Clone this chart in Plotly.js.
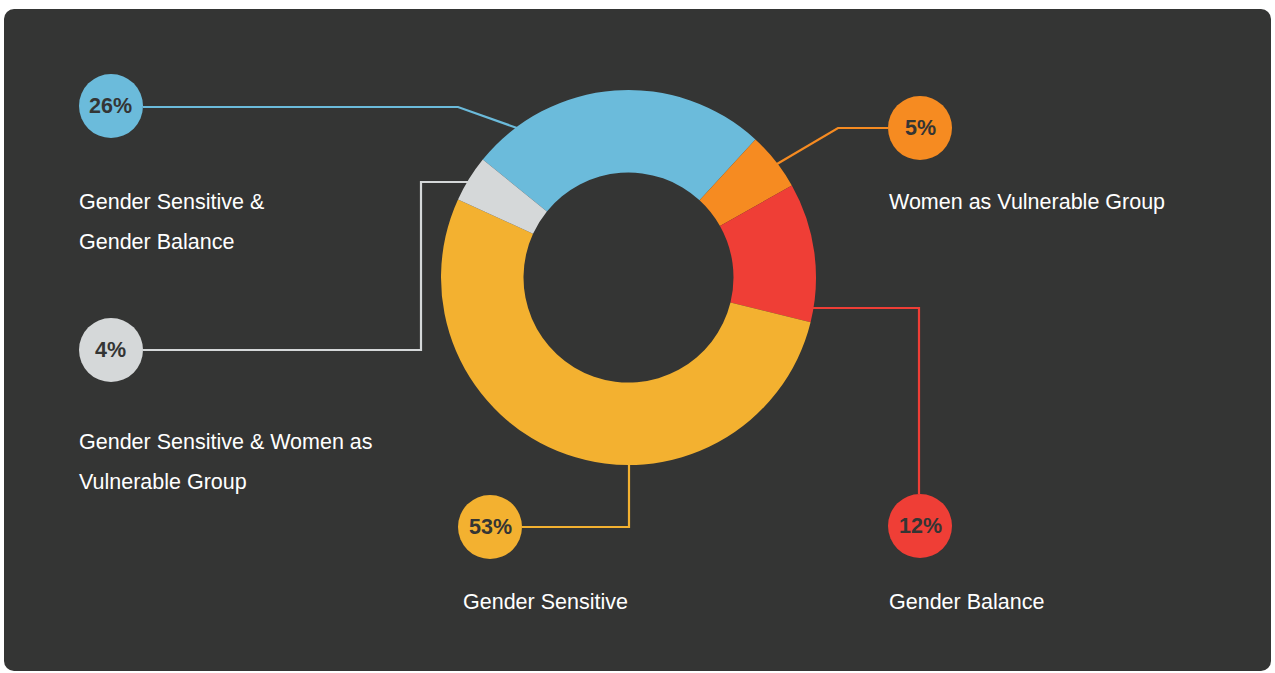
<!DOCTYPE html>
<html>
<head>
<meta charset="utf-8">
<script src="https://cdn.plot.ly/plotly-3.0.1.min.js"></script>
<style>
  html, body { margin: 0; padding: 0; background: #ffffff; width: 1275px; height: 673px; overflow: hidden; }
  #bg { position: absolute; left: 4px; top: 9px; width: 1267px; height: 662px; border-radius: 10px; background: #343534; }
  #chart { position: absolute; left: 0; top: 0; width: 1275px; height: 673px; }
</style>
</head>
<body>
<div id="bg"></div>
<div id="chart"></div>
<script>
// ---- data ----
const categories = [
  "Gender Sensitive & Gender Balance",
  "Women as Vulnerable Group",
  "Gender Balance",
  "Gender Sensitive",
  "Gender Sensitive & Women as Vulnerable Group"
];
const values = [26, 5, 12, 53, 4];
const colors = ["#6bbbdb", "#f68b21", "#ef3e36", "#f3b130", "#d5d8d9"];
const labelLines = [
  ["Gender Sensitive &", "Gender Balance"],
  ["Women as Vulnerable Group"],
  ["Gender Balance"],
  ["Gender Sensitive"],
  ["Gender Sensitive & Women as", "Vulnerable Group"]
];

// ---- layout helpers (pixel -> paper) ----
const W = 1275, H = 673;
const px = x => x / W;
const py = y => 1 - y / H;

// callout geometry (pixels): bubble centre, label left/middle, leader polyline
const callouts = [
  { c: [111, 106], lab: [77, 202], path: [[143, 107], [458, 107], [517, 128]] },
  { c: [920, 128], lab: [887, 202], path: [[888, 128], [838, 128], [777, 164]] },
  { c: [920, 526], lab: [887, 602], path: [[813, 308], [919, 308], [919, 494]] },
  { c: [490, 527], lab: [461, 602], path: [[522, 527], [629, 527], [629, 465]] },
  { c: [111, 350], lab: [77, 442], path: [[143, 350], [421, 350], [421, 182], [468, 182]] }
];
const R = 32;
const lineGap = 40;

const shapes = [];
const annotations = [];
callouts.forEach((co, i) => {
  const d = co.path.map((p, k) => (k === 0 ? "M" : "L") + px(p[0]) + "," + py(p[1])).join(" ");
  shapes.push({ type: "path", xref: "paper", yref: "paper", path: d,
    line: { color: colors[i], width: 2.2 } });
  shapes.push({ type: "circle", xref: "paper", yref: "paper",
    x0: px(co.c[0] - R), x1: px(co.c[0] + R), y0: py(co.c[1] + R), y1: py(co.c[1] - R),
    fillcolor: colors[i], line: { width: 0 } });
  annotations.push({ xref: "paper", yref: "paper", x: px(co.c[0]), y: py(co.c[1]),
    xanchor: "center", yanchor: "middle", showarrow: false,
    text: "<b>" + values[i] + "%</b>",
    font: { family: "Liberation Sans, Arial, sans-serif", size: 21.5, color: "#343534" } });
  labelLines[i].forEach((t, k) => {
    annotations.push({ xref: "paper", yref: "paper", x: px(co.lab[0]), y: py(co.lab[1] + k * lineGap),
      xanchor: "left", yanchor: "middle", showarrow: false, text: t,
      font: { family: "Liberation Sans, Arial, sans-serif", size: 21.5, color: "#ffffff" } });
  });
});

const trace = {
  type: "pie",
  labels: categories,
  values: values,
  marker: { colors: colors, line: { width: 0 } },
  hole: 0.56,
  sort: false,
  direction: "clockwise",
  rotation: -51,
  textinfo: "none",
  hoverinfo: "label+percent",
  showlegend: false,
  domain: { x: [px(441), px(816)], y: [py(465), py(90)] }
};

const layout = {
  width: W, height: H,
  margin: { l: 0, r: 0, t: 0, b: 0 },
  paper_bgcolor: "rgba(0,0,0,0)",
  plot_bgcolor: "rgba(0,0,0,0)",
  showlegend: false,
  shapes: shapes,
  annotations: annotations
};

Plotly.newPlot("chart", [trace], layout, { displayModeBar: false, staticPlot: true });
</script>
</body>
</html>
